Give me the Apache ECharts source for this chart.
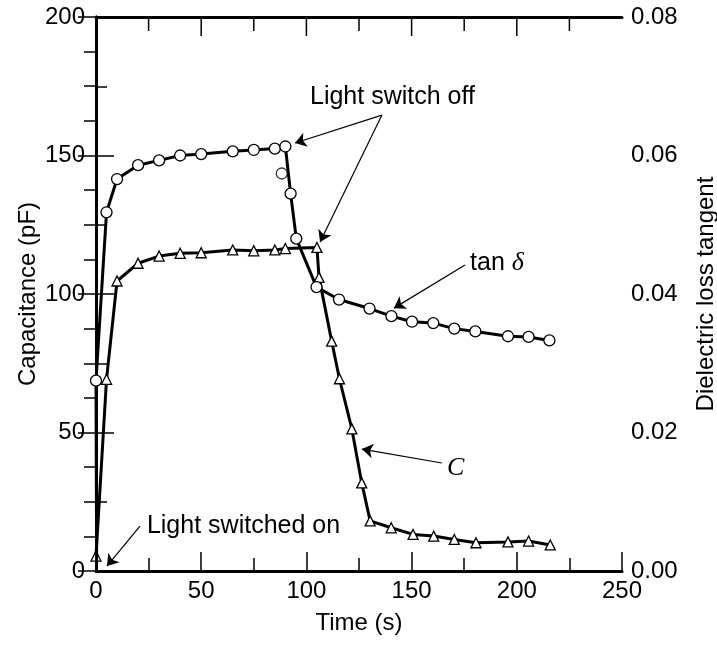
<!doctype html>
<html>
<head>
<meta charset="utf-8">
<title>Capacitance and loss tangent</title>
<script src="https://cdn.jsdelivr.net/npm/echarts@6/dist/echarts.min.js"></script>
<style>
  html, body { margin: 0; padding: 0; background: #fff; }
  #chart { width: 717px; height: 646px; }
</style>
</head>
<body>
<div id="chart"></div>
<script>
// capacitance C (pF), triangles, left axis
var capTime = [0, 5, 10, 20, 30, 40, 50, 65, 75, 85, 90, 105, 106, 112, 115.7, 121.6, 126.3, 130.3, 140.3, 150.7, 160.5, 170.3, 180.6, 195.8, 205.6, 215.9];
var capValue = [5.4, 69.2, 104.7, 111.1, 113.7, 114.7, 114.9, 115.9, 115.6, 115.9, 116.4, 116.8, 106, 83, 69.4, 51.3, 31.8, 18.1, 15.6, 13.2, 12.6, 11.4, 10.2, 10.5, 10.8, 9.4];

// dielectric loss tangent, circles, right axis (first point is line start only)
var tanTime = [0.3, 0, 5, 10, 20, 30, 40, 50, 65, 75, 85, 90, 92.5, 95.2, 104.8, 115.5, 130, 140.4, 150.2, 160.3, 170.3, 180.3, 195.8, 205.6, 215.5];
var tanValue = [0.0012, 0.0275, 0.0518, 0.0566, 0.0586, 0.0593, 0.0600, 0.0602, 0.0606, 0.0608, 0.0610, 0.0613, 0.0545, 0.0480, 0.0410, 0.0392, 0.0379, 0.0368, 0.0360, 0.0358, 0.0350, 0.0346, 0.0339, 0.0338, 0.0333];
// one reading sits off the line
var tanStray = [[88.3, 0.0574]];

// tick marks hanging from the top frame (time, s)
var topMajor = [50, 100, 150, 200];
var topMinor = [25, 75, 125, 175, 225];

var font = '"Liberation Sans", Arial, Helvetica, sans-serif';
var fs = 24;

function pairs(xs, ys) {
  return xs.map(function (x, i) { return [x, ys[i]]; });
}

var tanData = pairs(tanTime, tanValue);
tanData[0] = { value: tanData[0], symbol: 'none' };

var chart = echarts.init(document.getElementById('chart'));

var axisLineStyle = { color: '#000', width: 3 };
var tickStyle = { color: '#000', width: 1.5 };

var option = {
  backgroundColor: '#fff',
  animation: false,
  grid: { left: 96, right: 95, top: 17, bottom: 75, outerBoundsMode: 'none', containLabel: false },
  xAxis: [
    {
      type: 'value', min: 0, max: 250, interval: 50, position: 'bottom',
      name: 'Time (s)', nameLocation: 'middle', nameGap: 40,
      nameTextStyle: { color: '#000', fontSize: fs, fontFamily: font },
      axisLine: { show: true, onZero: false, lineStyle: axisLineStyle },
      axisTick: { show: true, inside: true, length: 19, lineStyle: tickStyle },
      minorTick: { show: true, splitNumber: 2, length: 13, lineStyle: tickStyle },
      axisLabel: { color: '#000', fontSize: fs, fontFamily: font, margin: 8 },
      splitLine: { show: false }
    },
    {
      type: 'value', min: 0, max: 250, interval: 50, position: 'top',
      axisLine: { show: true, onZero: false, lineStyle: axisLineStyle },
      axisTick: { show: false },
      axisLabel: { show: false },
      splitLine: { show: false }
    }
  ],
  yAxis: [
    {
      type: 'value', min: 0, max: 200, interval: 50, position: 'left',
      name: 'Capacitance (pF)', nameLocation: 'middle', nameGap: 56, nameMoveOverlap: false,
      nameTextStyle: { color: '#000', fontSize: fs, fontFamily: font },
      axisLine: { show: true, lineStyle: axisLineStyle },
      axisTick: { show: true, inside: true, length: 18, lineStyle: tickStyle },
      minorTick: { show: true, splitNumber: 2, length: 11, lineStyle: tickStyle },
      axisLabel: { color: '#000', fontSize: fs, fontFamily: font, margin: 11 },
      splitLine: { show: false }
    },
    {
      type: 'value', min: 0, max: 0.08, interval: 0.02, position: 'right',
      name: 'Dielectric loss tangent', nameLocation: 'middle', nameGap: 72, nameMoveOverlap: false,
      nameTextStyle: { color: '#000', fontSize: fs, fontFamily: font },
      axisLine: { show: true, lineStyle: axisLineStyle },
      axisTick: { show: true, inside: true, length: 18, lineStyle: tickStyle },
      minorTick: { show: true, splitNumber: 4, length: 12, lineStyle: tickStyle },
      axisLabel: { color: '#000', fontSize: fs, fontFamily: font, margin: 9,
        formatter: function (v) { return v.toFixed(2); } },
      splitLine: { show: false }
    }
  ],
  series: [
    {
      name: 'C', type: 'line', xAxisIndex: 0, yAxisIndex: 0,
      data: pairs(capTime, capValue),
      symbol: 'triangle', symbolSize: 10, showAllSymbol: true,
      itemStyle: { color: '#fff', borderColor: '#000', borderWidth: 1.3 },
      lineStyle: { color: '#000', width: 3 },
      z: 3,
      markLine: {
        silent: true, symbol: ['none', 'arrow'], symbolSize: 11,
        label: { show: false },
        lineStyle: { color: '#000', width: 1.2, type: 'solid' },
        data: [
          [{ coord: [135.9, 164.6] }, { coord: [94.6, 154.5] }],
          [{ coord: [135.9, 164.6] }, { coord: [106.5, 118.8] }],
          [{ coord: [175.4, 110.5] }, { coord: [141.6, 94.9] }],
          [{ coord: [164.4, 39] }, { coord: [126.4, 44] }],
          [{ coord: [20.9, 16.2] }, { coord: [5.2, 1.8] }]
        ]
      },
      markPoint: {
        silent: true, symbol: 'circle', symbolSize: 0,
        label: {
          show: true, position: 'right', distance: 0, color: '#000',
          fontSize: 25, fontFamily: font,
          rich: {
            i: { fontStyle: 'italic', fontFamily: '"Liberation Serif", "DejaVu Serif", serif', fontSize: 26, color: '#000' }
          }
        },
        data: [
          { coord: [101.7, 171], label: { formatter: 'Light switch off' } },
          { coord: [177.8, 111.2], label: { formatter: 'tan {i|δ}' } },
          { coord: [166.8, 37.2], label: { formatter: '{i|C}' } },
          { coord: [24.2, 16.2], label: { formatter: 'Light switched on' } }
        ]
      }
    },
    {
      name: 'tan δ', type: 'line', xAxisIndex: 0, yAxisIndex: 1,
      data: tanData,
      symbol: 'circle', symbolSize: 11, showAllSymbol: true,
      itemStyle: { color: '#fff', borderColor: '#000', borderWidth: 1.3 },
      lineStyle: { color: '#000', width: 3 },
      z: 4
    },
    {
      name: 'tan δ stray', type: 'scatter', xAxisIndex: 0, yAxisIndex: 1,
      data: tanStray,
      symbol: 'circle', symbolSize: 11,
      itemStyle: { color: '#fff', borderColor: '#000', borderWidth: 1.3 },
      z: 4
    }
  ]
};

chart.setOption(option);

// ticks along the top frame, placed with the x axis scale
var topY = chart.convertToPixel({ yAxisIndex: 0 }, 200);
var tickEls = [];
topMajor.forEach(function (t) {
  var x = chart.convertToPixel({ xAxisIndex: 0 }, t);
  tickEls.push({ type: 'line', shape: { x1: x, y1: topY, x2: x, y2: topY + 19 },
    style: { stroke: '#000', lineWidth: 1.5 }, z: 100, silent: true });
});
topMinor.forEach(function (t) {
  var x = chart.convertToPixel({ xAxisIndex: 0 }, t);
  tickEls.push({ type: 'line', shape: { x1: x, y1: topY, x2: x, y2: topY + 14 },
    style: { stroke: '#000', lineWidth: 1.5 }, z: 100, silent: true });
});
chart.setOption({ graphic: { elements: tickEls } });
</script>
</body>
</html>
